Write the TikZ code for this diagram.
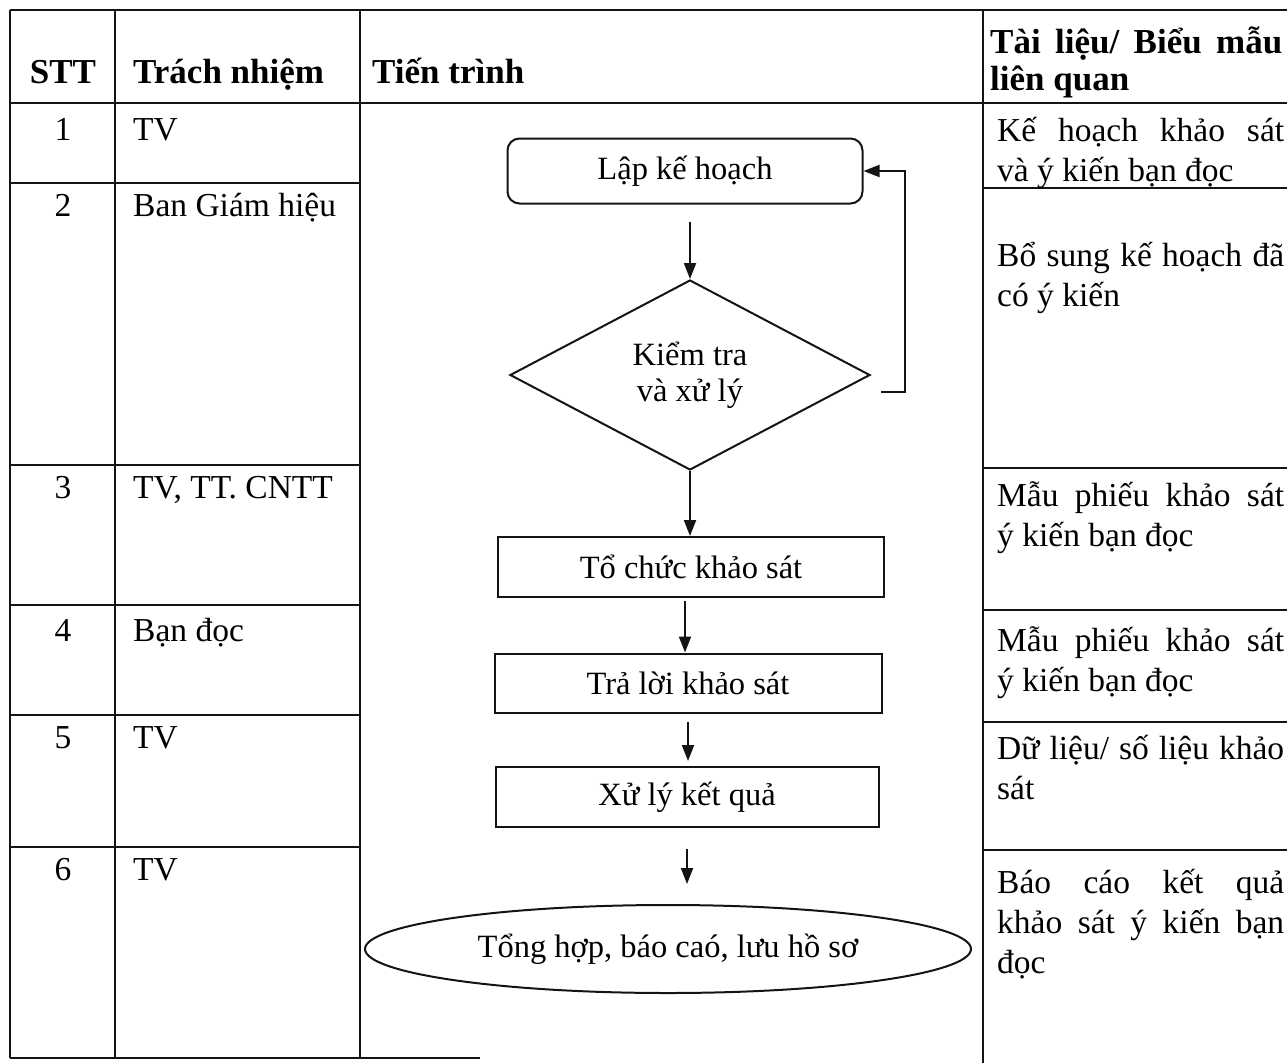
\documentclass[tikz,border=0pt]{standalone}
\usepackage{fontspec}
\setmainfont{Liberation Serif}
\usetikzlibrary{arrows.meta, calc, shapes.geometric}
\definecolor{inkgray}{RGB}{20, 20, 20}

\tikzset{
  tableline/.style={line width=2pt, inkgray},
  cell/.style={inner sep=0pt, font=\fontsize{33.5}{40}\selectfont},
  headcell/.style={inner sep=0pt, font=\fontsize{35}{37}\selectfont\bfseries},
  doccell/.style={cell, anchor=base west, text width=287pt, align=justify},
  stepbox/.style={draw, line width=2pt, inkgray, text=black, minimum height=60pt, font=\fontsize{32.5}{36}\selectfont},
  flowarrow/.style={line width=2pt, inkgray, -{Triangle[length=16pt,width=12pt]}},
}

\begin{document}
\begin{tikzpicture}[x=1pt, y=-1pt]
  \useasboundingbox (0,0) rectangle (1287,1063);
  % Table frame
  \draw[tableline] (10,10) -- (1287,10);
  \draw[tableline] (10,103) -- (1287,103);
  \foreach \x/\ybot in {10/1058, 115/1058, 360/1058, 983/1063}
    \draw[tableline] (\x,10) -- (\x,\ybot);
  \draw[tableline] (10,1058) -- (480,1058);
  % Row separators - left columns and documents column
  \foreach \y in {183, 465, 605, 715, 847}
    \draw[tableline] (10,\y) -- (360,\y);
  \foreach \y in {188, 468, 610, 722, 850}
    \draw[tableline] (983,\y) -- (1287,\y);

  % Header
  \node[headcell, anchor=base] (hstt) at (63,83) {STT};
  \node[headcell, anchor=base west] (hwho) at (133,83) {Trách nhiệm};
  \node[headcell, anchor=base west] (hflow) at (372,83) {Tiến trình};
  \node[headcell, anchor=base west, text width=292pt, align=justify] (hdoc) at (990,53) {Tài liệu/ Biểu mẫu\linebreak liên quan};

  % Numbers and responsibilities
  \foreach \n/\who/\yb in {1/TV/140, 2/Ban Giám hiệu/216, 3/{TV, TT. CNTT}/498, 4/Bạn đọc/641, 5/TV/748, 6/TV/880} {
    \node[cell, anchor=base] (stt\n) at (63,\yb) {\n};
    \node[cell, anchor=base west] (who\n) at (133,\yb) {\who};
  }

  % Related documents
  \node[doccell] (doc1) at (997,141) {Kế hoạch khảo sát\linebreak và ý kiến bạn đọc};
  \node[doccell] (doc2) at (997,266) {Bổ sung kế hoạch đã\linebreak có ý kiến};
  \node[doccell] (doc3) at (997,506) {Mẫu phiếu khảo sát\linebreak ý kiến bạn đọc};
  \node[doccell] (doc4) at (997,651) {Mẫu phiếu khảo sát\linebreak ý kiến bạn đọc};
  \node[doccell] (doc5) at (997,759) {Dữ liệu/ số liệu khảo\linebreak sát};
  \node[doccell] (doc6) at (997,893) {Báo cáo kết quả\linebreak khảo sát ý kiến bạn\linebreak đọc};

  % Process steps
  \node[stepbox, rounded corners=12pt, minimum width=355pt, minimum height=65pt] (plan) at (685,171) {Lập kế hoạch};
  \node[stepbox, diamond, minimum width=360pt, minimum height=190pt, inner sep=0pt, align=center] (check) at (690,375) {Kiểm tra\\và xử lý};
  \node[stepbox, minimum width=386pt] (survey) at (691,567) {Tổ chức khảo sát};
  \node[stepbox, minimum width=387pt, minimum height=59pt] (answer) at (688,683) {Trả lời khảo sát};
  \node[stepbox, minimum width=383pt] (result) at (687,797) {Xử lý kết quả};
  \node[stepbox, ellipse, minimum width=606pt, minimum height=88pt] (report) at (668,949) {Tổng hợp, báo caó, lưu hồ sơ};

  % Connectors
  \draw[flowarrow] ($(check.north |- plan.south)+(0,17)$) -- (check.north);
  \draw[flowarrow] (check.south) -- (check.south |- survey.north);
  \draw[flowarrow] ($(survey.south)+(-6,3)$) -- ($(survey.south |- answer.north)+(-6,0)$);
  \draw[flowarrow] ($(answer.south)+(0,8)$) -- ($(answer.south |- result.north)+(0,-5)$);
  \draw[flowarrow] ($(result.south)+(0,21)$) -- ($(result.south |- report.north)+(0,-20)$);
  % Feedback - back to planning
  \draw[flowarrow] ($(check.east)+(10,17)$) -| ($(plan.east)+(41,0)$) -- (plan.east);
\end{tikzpicture}
\end{document}
